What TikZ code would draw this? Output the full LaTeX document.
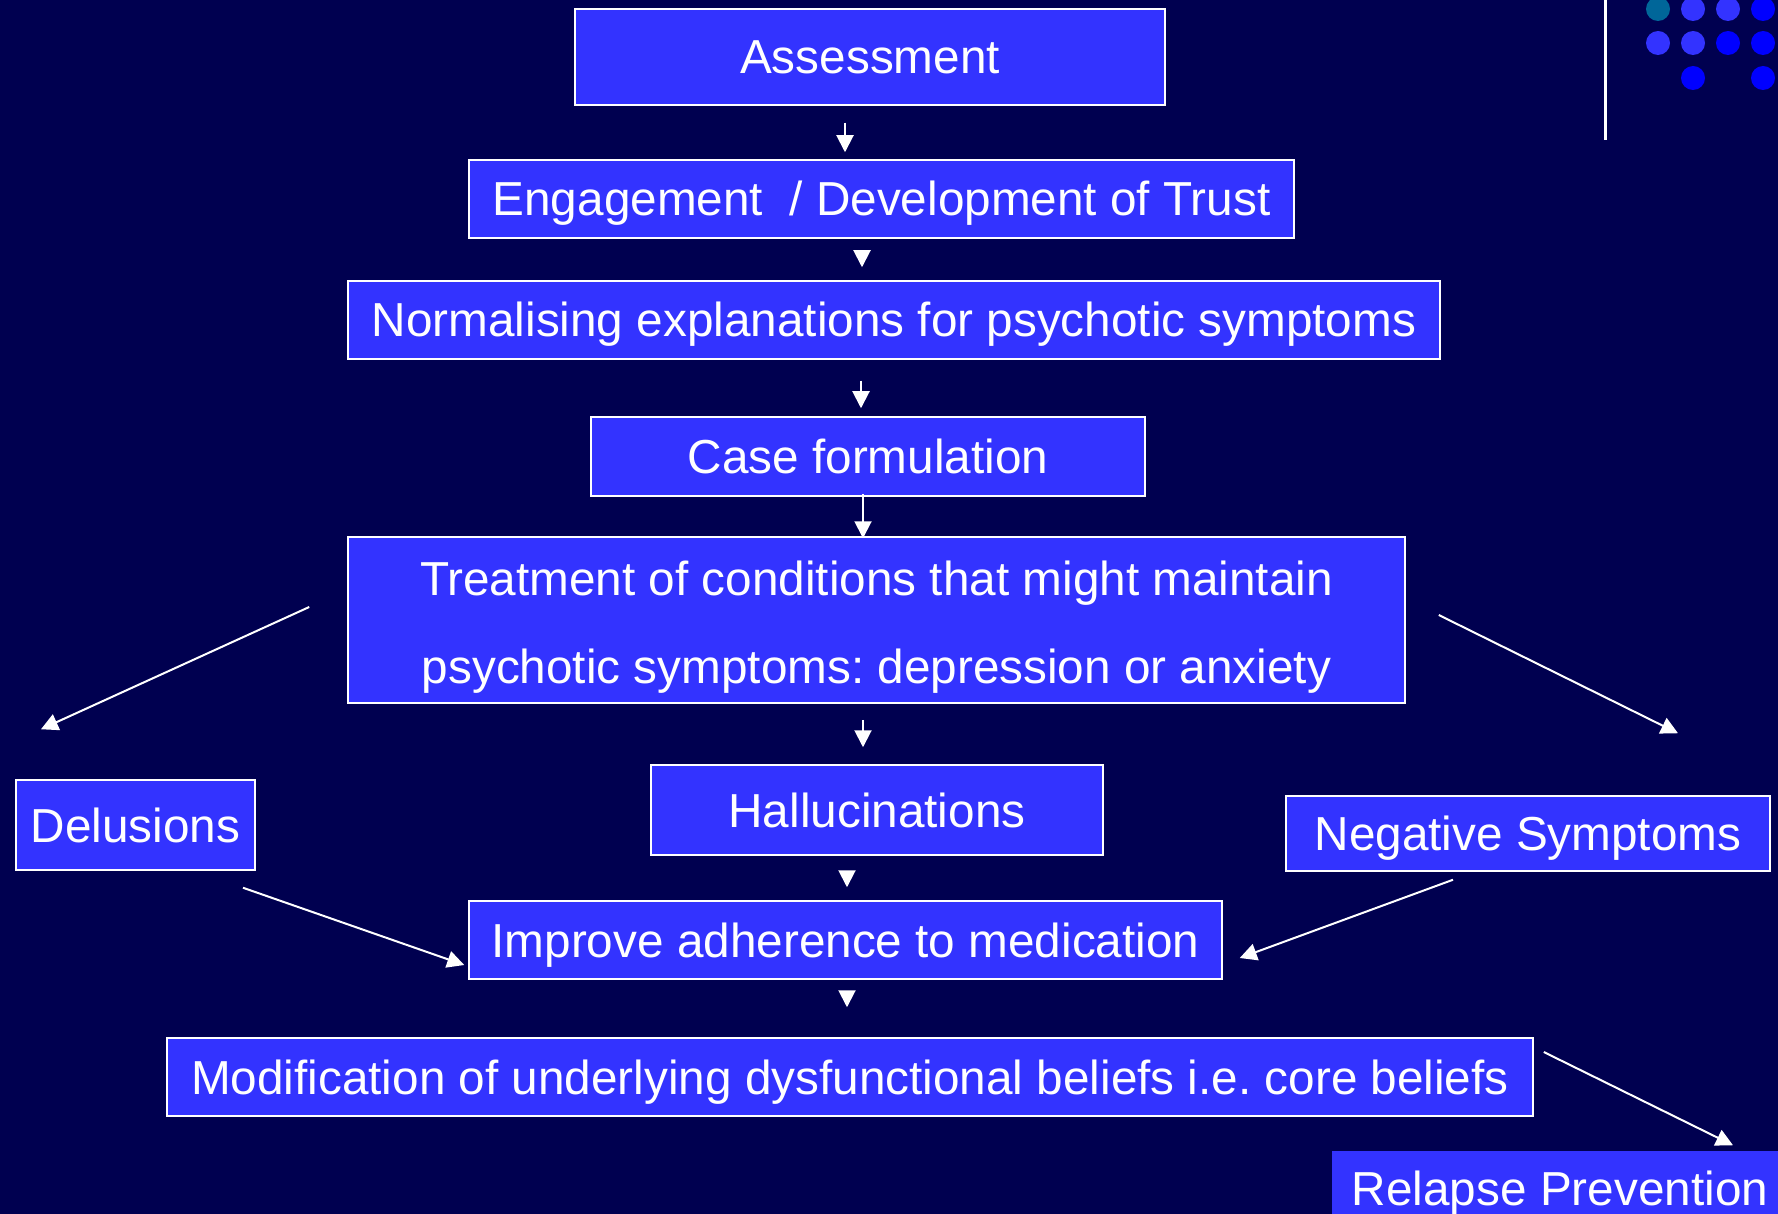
\documentclass[tikz,border=0pt]{standalone}
\usepackage{xcolor}
\usepackage{fontspec}
\setmainfont{Liberation Sans}
\usepackage{tikz}
\usetikzlibrary{arrows.meta}
\definecolor{slidebg}{HTML}{000050}
\definecolor{boxblue}{HTML}{3333FF}
\definecolor{dotblue}{HTML}{0000FF}
\definecolor{dotteal}{HTML}{006699}
\frenchspacing

\begin{document}
\begin{tikzpicture}[x=1pt, y=-1pt,
  every node/.style={font=\fontsize{47.7}{57}\selectfont, text=white},
  fillbox/.style={draw=white, line width=1.5pt, fill=boxblue, inner sep=0pt},
  stepbox/.style={fillbox, text height=34pt, text depth=0pt},
  arr/.style={draw=white, line width=2pt, -{Triangle[width=17pt,length=17pt]}}]
\useasboundingbox (0,0) rectangle (1778,1214);
\fill[slidebg] (0,0) rectangle (1778,1214);
% slide corner
\draw[white, line width=3pt] (1605,0) -- (1605,140);
\foreach \dx/\dy/\dc in {1658/9/dotteal, 1693/9/boxblue, 1728/9/boxblue, 1763/9/dotblue,
                         1658/43/boxblue, 1693/43/boxblue, 1728/43/dotblue, 1763/43/dotblue,
                         1693/78/dotblue, 1763/78/dotblue}
  \fill[\dc] (\dx,\dy) circle (12pt);
% boxes
\node[stepbox, minimum width=590pt, minimum height=96pt] (assess) at (870,57) {Assessment};
\node[stepbox, minimum width=825pt, minimum height=78pt] (engage) at (881.5,199) {Engagement\ \ / Development of Trust};
\node[stepbox, minimum width=1092pt, minimum height=78pt] (normal) at (894,320) {Normalising explanations for psychotic symptoms};
\node[stepbox, minimum width=554pt, minimum height=79pt] (casef) at (868,456.5) {Case formulation};
\node[fillbox, minimum width=1057pt, minimum height=166pt, align=center,
      font=\fontsize{47.7}{88}\selectfont] (treat) at (876.5,620)
      {\rule{0pt}{49pt}Treatment of conditions that might maintain\\psychotic symptoms: depression or anxiety};
\node[stepbox, minimum width=452pt, minimum height=90pt] (halluc) at (877,810) {Hallucinations};
\node[stepbox, minimum width=239pt, minimum height=90pt] (delus) at (135.5,825) {Delusions};
\node[stepbox, minimum width=484pt, minimum height=75pt] (negsym) at (1528,833.5) {Negative Symptoms};
\node[stepbox, minimum width=753pt, minimum height=78pt] (adhere) at (845.5,940) {Improve adherence to medication};
\node[stepbox, minimum width=1366pt, minimum height=78pt] (modif) at (850,1077) {Modification of underlying dysfunctional beliefs i.e. core beliefs};
\node[stepbox, draw=none, minimum width=456pt, minimum height=74pt] (relapse) at (1560,1188) {Relapse Prevention};
% down the middle
\draw[arr, shorten <=17pt, shorten >=7pt] (assess.south -| 845,0) -- (engage.north -| 845,0);
\draw[arr, shorten <=13pt, shorten >=13pt] (engage.south -| 862,0) -- (normal.north -| 862,0);
\draw[arr, shorten <=21pt, shorten >=8pt] (normal.south -| 861,0) -- (casef.north -| 861,0);
\draw[arr, shorten <=-3pt, shorten >=-2pt] (casef.south -| 863,0) -- (treat.north -| 863,0);
\draw[arr, shorten <=16pt, shorten >=17pt] (treat.south -| 863,0) -- (halluc.north -| 863,0);
\draw[arr, shorten <=16pt, shorten >=13pt] (halluc.south -| 847,0) -- (adhere.north -| 847,0);
\draw[arr, shorten <=12pt, shorten >=30pt] (adhere.south -| 847,0) -- (modif.north -| 847,0);
% side branches
\draw[arr] ([shift={(-38,-13)}]treat.west) -- ([shift={(-94.5,-50)}]delus.north);
\draw[arr] ([shift={(33,-5)}]treat.east) -- ([shift={(150,-62)}]negsym.north);
\draw[arr] ([shift={(107.5,17)}]delus.south) -- ([shift={(-4,25)}]adhere.west);
\draw[arr] ([shift={(-75,8)}]negsym.south) -- ([shift={(17,18)}]adhere.east);
\draw[arr] ([shift={(10,-25)}]modif.east) -- ([shift={(173,-5)}]relapse.north);
\end{tikzpicture}
\end{document}
